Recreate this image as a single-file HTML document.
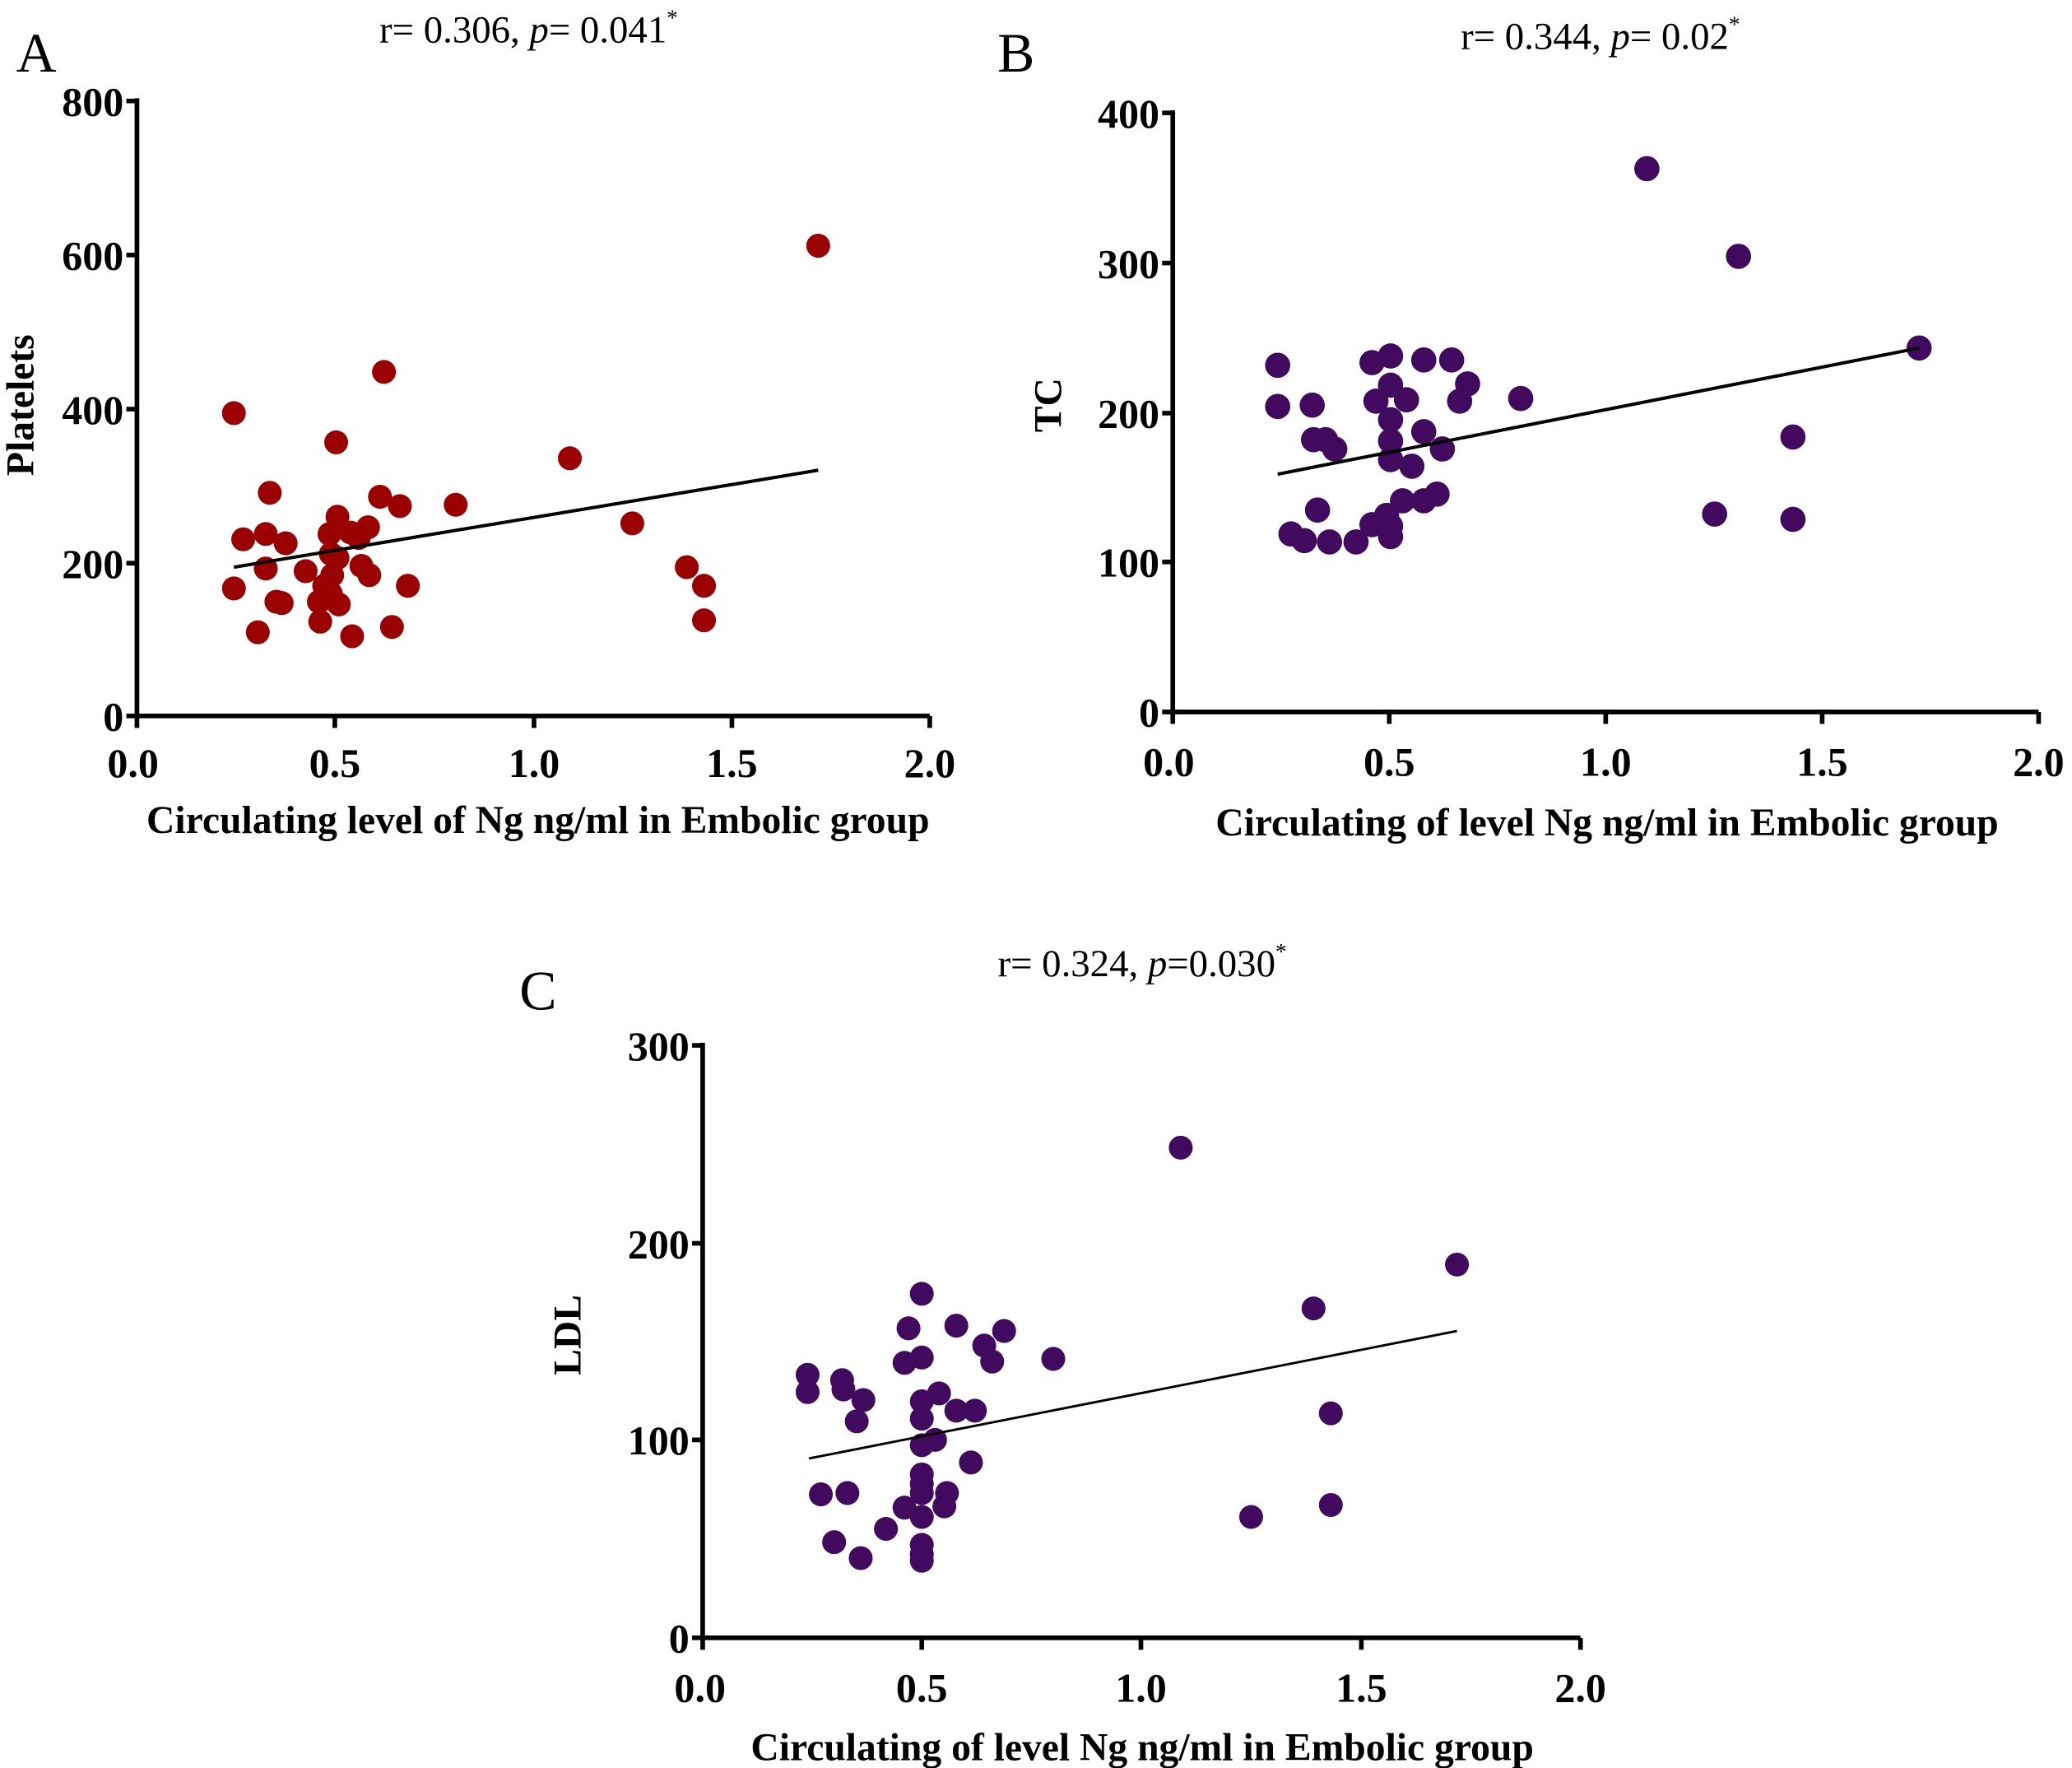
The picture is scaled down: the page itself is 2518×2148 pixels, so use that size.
<!DOCTYPE html>
<html><head><meta charset="utf-8"><style>
html,body{margin:0;padding:0;background:#fff;}
svg{display:block;}
text{font-family:"Liberation Serif",serif;}
.t{font-weight:bold;font-size:31px;}
.ax{font-weight:bold;font-size:29.5px;}
.ti{font-size:29px;}
.lt{font-size:42px;}
</style></head><body>
<svg width="2518" height="2148" viewBox="0 0 1560 1331" xmlns="http://www.w3.org/2000/svg">
<rect width="1560" height="1331" fill="#fff"/>
<!-- Panel A -->
<text class="lt" x="12" y="54">A</text>
<text class="ti" x="398" y="32" text-anchor="middle">r= 0.306, <tspan font-style="italic">p</tspan>= 0.041<tspan font-size="17" dy="-13">*</tspan></text>
<g stroke="#000" stroke-width="3.5" fill="none">
<path d="M103,74 V539 H700"/>
<path d="M95,76 H103 M95,192 H103 M95,308 H103 M95,424 H103 M95,539 H103"/>
<path d="M103,539 V548 M252,539 V548 M402,539 V548 M551,539 V548 M700,539 V548"/>
</g>
<g class="t" text-anchor="end">
<text x="93" y="87">800</text><text x="93" y="203">600</text><text x="93" y="319">400</text><text x="93" y="435">200</text><text x="93" y="550">0</text>
</g>
<g class="t" text-anchor="middle">
<text x="100" y="585">0.0</text><text x="252" y="585">0.5</text><text x="402" y="585">1.0</text><text x="551" y="585">1.5</text><text x="700" y="585">2.0</text>
</g>
<text class="ax" x="405" y="627" text-anchor="middle">Circulating level of Ng ng/ml in Embolic group</text>
<text class="ax" transform="translate(25,305) rotate(-90)" text-anchor="middle">Platelets</text>
<g fill="#9b0000">
<circle cx="176" cy="311" r="9"/><circle cx="616" cy="185" r="9"/><circle cx="289" cy="280" r="9"/><circle cx="253" cy="333" r="9"/><circle cx="429" cy="345" r="9"/><circle cx="203" cy="371" r="9"/><circle cx="286" cy="374" r="9"/><circle cx="301" cy="381" r="9"/><circle cx="343" cy="380" r="9"/><circle cx="476" cy="394" r="9"/><circle cx="254" cy="389" r="9"/><circle cx="248" cy="402" r="9"/><circle cx="264" cy="401" r="9"/><circle cx="277" cy="397" r="9"/><circle cx="270" cy="405" r="9"/><circle cx="183" cy="406" r="9"/><circle cx="200" cy="402" r="9"/><circle cx="215" cy="409" r="9"/><circle cx="249" cy="417" r="9"/><circle cx="254" cy="420" r="9"/><circle cx="200" cy="428" r="9"/><circle cx="230" cy="430" r="9"/><circle cx="272" cy="426" r="9"/><circle cx="278" cy="433" r="9"/><circle cx="250" cy="433" r="9"/><circle cx="517" cy="427" r="9"/><circle cx="176" cy="443" r="9"/><circle cx="530" cy="441" r="9"/><circle cx="307" cy="441" r="9"/><circle cx="244" cy="441" r="9"/><circle cx="249" cy="447" r="9"/><circle cx="208" cy="453" r="9"/><circle cx="212" cy="454" r="9"/><circle cx="240" cy="453" r="9"/><circle cx="255" cy="455" r="9"/><circle cx="241" cy="468" r="9"/><circle cx="530" cy="467" r="9"/><circle cx="295" cy="472" r="9"/><circle cx="194" cy="476" r="9"/><circle cx="265" cy="479" r="9"/>
</g>
<line x1="176" y1="427" x2="616" y2="354" stroke="#000" stroke-width="2.5"/>

<!-- Panel B -->
<text class="lt" x="751" y="54">B</text>
<text class="ti" x="1205" y="37" text-anchor="middle">r= 0.344, <tspan font-style="italic">p</tspan>= 0.02<tspan font-size="17" dy="-13">*</tspan></text>
<g stroke="#000" stroke-width="3.5" fill="none">
<path d="M883,83 V536 H1535"/>
<path d="M875,85 H883 M875,198 H883 M875,311 H883 M875,423 H883 M875,536 H883"/>
<path d="M883,536 V545 M1046,536 V545 M1209,536 V545 M1372,536 V545 M1535,536 V545"/>
</g>
<g class="t" text-anchor="end">
<text x="873" y="96">400</text><text x="873" y="209">300</text><text x="873" y="322">200</text><text x="873" y="434">100</text><text x="873" y="547">0</text>
</g>
<g class="t" text-anchor="middle">
<text x="880" y="584">0.0</text><text x="1046" y="584">0.5</text><text x="1209" y="584">1.0</text><text x="1372" y="584">1.5</text><text x="1535" y="584">2.0</text>
</g>
<text class="ax" x="1210" y="629" text-anchor="middle">Circulating of level Ng ng/ml in Embolic group</text>
<text class="ax" transform="translate(799,305) rotate(-90)" text-anchor="middle">TC</text>
<g fill="#420a5e">
<circle cx="1240" cy="127" r="9.5"/><circle cx="1309" cy="193" r="9.5"/><circle cx="1445" cy="262" r="9.5"/><circle cx="962" cy="275" r="9.5"/><circle cx="1033" cy="273" r="9.5"/><circle cx="1047" cy="268" r="9.5"/><circle cx="1072" cy="271" r="9.5"/><circle cx="1093" cy="271" r="9.5"/><circle cx="1105" cy="289" r="9.5"/><circle cx="1145" cy="300" r="9.5"/><circle cx="1036" cy="302" r="9.5"/><circle cx="1059" cy="301" r="9.5"/><circle cx="1099" cy="302" r="9.5"/><circle cx="1047" cy="290" r="9.5"/><circle cx="962" cy="306" r="9.5"/><circle cx="988" cy="305" r="9.5"/><circle cx="1047" cy="316" r="9.5"/><circle cx="1072" cy="325" r="9.5"/><circle cx="1086" cy="338" r="9.5"/><circle cx="1350" cy="329" r="9.5"/><circle cx="989" cy="331" r="9.5"/><circle cx="998" cy="331" r="9.5"/><circle cx="1005" cy="338" r="9.5"/><circle cx="1047" cy="332" r="9.5"/><circle cx="1047" cy="346" r="9.5"/><circle cx="1063" cy="351" r="9.5"/><circle cx="1056" cy="377" r="9.5"/><circle cx="1072" cy="377" r="9.5"/><circle cx="1082" cy="372" r="9.5"/><circle cx="992" cy="384" r="9.5"/><circle cx="1033" cy="395" r="9.5"/><circle cx="1044" cy="388" r="9.5"/><circle cx="1047" cy="396" r="9.5"/><circle cx="1047" cy="404" r="9.5"/><circle cx="1291" cy="387" r="9.5"/><circle cx="1350" cy="391" r="9.5"/><circle cx="972" cy="402" r="9.5"/><circle cx="982" cy="407" r="9.5"/><circle cx="1001" cy="408" r="9.5"/><circle cx="1021" cy="408" r="9.5"/>
</g>
<line x1="962" y1="357" x2="1445" y2="262" stroke="#000" stroke-width="2.5"/>

<!-- Panel C -->
<text class="lt" x="391" y="760">C</text>
<text class="ti" x="860" y="735" text-anchor="middle">r= 0.324, <tspan font-style="italic">p</tspan>=0.030<tspan font-size="17" dy="-13">*</tspan></text>
<g stroke="#000" stroke-width="3.5" fill="none">
<path d="M529,785 V1233 H1190"/>
<path d="M521,787 H529 M521,936 H529 M521,1084 H529 M521,1233 H529"/>
<path d="M529,1233 V1242 M694,1233 V1242 M859,1233 V1242 M1025,1233 V1242 M1190,1233 V1242"/>
</g>
<g class="t" text-anchor="end">
<text x="519" y="798">300</text><text x="519" y="947">200</text><text x="519" y="1095">100</text><text x="519" y="1244">0</text>
</g>
<g class="t" text-anchor="middle">
<text x="527" y="1281">0.0</text><text x="694" y="1281">0.5</text><text x="859" y="1281">1.0</text><text x="1025" y="1281">1.5</text><text x="1190" y="1281">2.0</text>
</g>
<text class="ax" x="860" y="1325" text-anchor="middle">Circulating of level Ng ng/ml in Embolic group</text>
<text class="ax" transform="translate(437,1005) rotate(-90)" text-anchor="middle">LDL</text>
<g fill="#420a5e">
<circle cx="889" cy="864" r="9"/><circle cx="1097" cy="952" r="9"/><circle cx="989" cy="985" r="9"/><circle cx="694" cy="974" r="9"/><circle cx="684" cy="1000" r="9"/><circle cx="720" cy="998" r="9"/><circle cx="756" cy="1002" r="9"/><circle cx="741" cy="1013" r="9"/><circle cx="747" cy="1025" r="9"/><circle cx="694" cy="1022" r="9"/><circle cx="681" cy="1026" r="9"/><circle cx="793" cy="1023" r="9"/><circle cx="608" cy="1035" r="9"/><circle cx="634" cy="1039" r="9"/><circle cx="608" cy="1048" r="9"/><circle cx="635" cy="1046" r="9"/><circle cx="650" cy="1054" r="9"/><circle cx="645" cy="1070" r="9"/><circle cx="694" cy="1055" r="9"/><circle cx="707" cy="1049" r="9"/><circle cx="734" cy="1062" r="9"/><circle cx="720" cy="1062" r="9"/><circle cx="1002" cy="1064" r="9"/><circle cx="694" cy="1068" r="9"/><circle cx="694" cy="1088" r="9"/><circle cx="704" cy="1084" r="9"/><circle cx="731" cy="1101" r="9"/><circle cx="694" cy="1110" r="9"/><circle cx="694" cy="1117" r="9"/><circle cx="618" cy="1125" r="9"/><circle cx="638" cy="1124" r="9"/><circle cx="713" cy="1124" r="9"/><circle cx="694" cy="1124" r="9"/><circle cx="681" cy="1135" r="9"/><circle cx="711" cy="1134" r="9"/><circle cx="694" cy="1142" r="9"/><circle cx="667" cy="1151" r="9"/><circle cx="942" cy="1142" r="9"/><circle cx="1002" cy="1133" r="9"/><circle cx="628" cy="1161" r="9"/><circle cx="694" cy="1163" r="9"/><circle cx="694" cy="1170" r="9"/><circle cx="694" cy="1175" r="9"/><circle cx="648" cy="1173" r="9"/>
</g>
<line x1="609" y1="1098" x2="1097" y2="1002" stroke="#000" stroke-width="1.8"/>
</svg>
</body></html>
